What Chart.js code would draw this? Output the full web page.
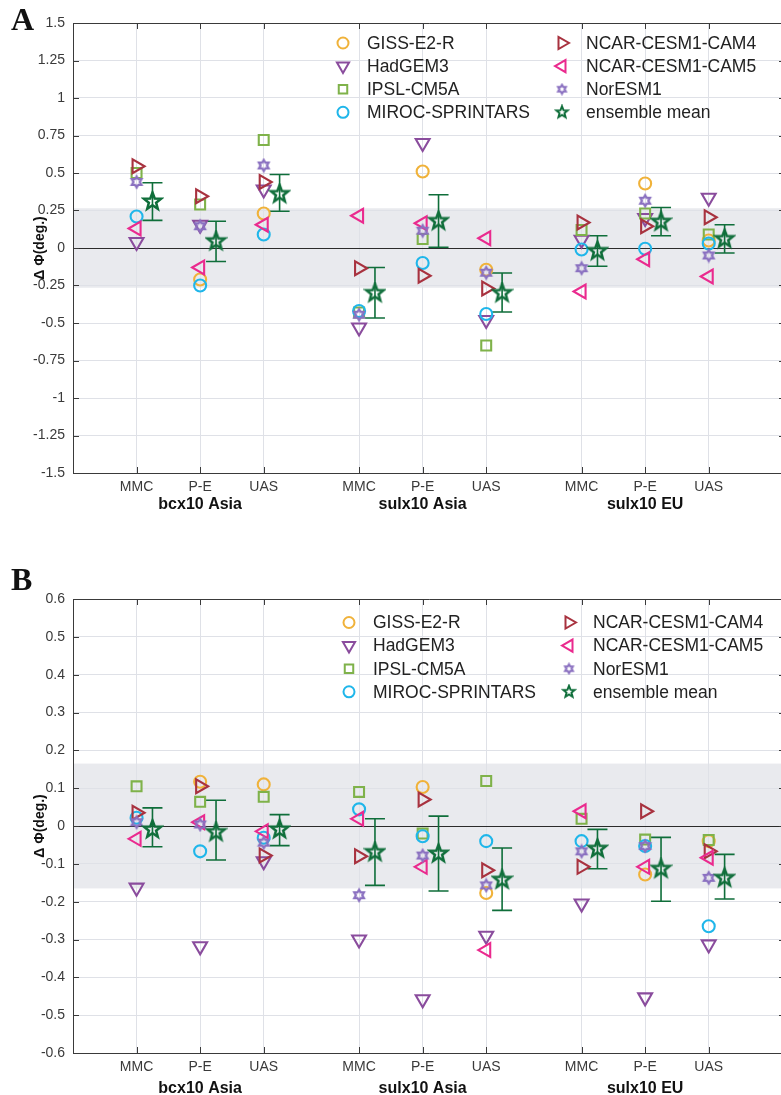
<!DOCTYPE html>
<html>
<head>
<meta charset="utf-8">
<script src="https://cdn.jsdelivr.net/npm/chart.js@4.4.0/dist/chart.umd.min.js"></script>
<style>
  html, body { margin: 0; padding: 0; background: #fff; overflow: hidden; }
  body { width: 781px; height: 1095px; position: relative; }
  .panel { position: absolute; left: 0; }
  .letter { position: absolute; left: 11px; font: bold 32px "Liberation Serif", serif; line-height: 32px; color: #111; }
</style>
</head>
<body>
<div class="panel" style="top:0"><canvas id="chartA" width="785" height="520"></canvas></div>
<div class="panel" style="top:576px"><canvas id="chartB" width="785" height="522"></canvas></div>
<div class="letter" style="top:3px">A</div>
<div class="letter" style="top:563px">B</div>
<script>
const categories = ['MMC', 'P-E', 'UAS', 'MMC', 'P-E', 'UAS', 'MMC', 'P-E', 'UAS'];
const xPositions = [1, 2, 3, 4.5, 5.5, 6.5, 8, 9, 10];
const groups = ['bcx10 Asia', 'sulx10 Asia', 'sulx10 EU'];
const groupPositions = [2, 5.5, 9];
const meanOffset = 0.25;

const models = ['GISS-E2-R', 'HadGEM3', 'IPSL-CM5A', 'MIROC-SPRINTARS',
                'NCAR-CESM1-CAM4', 'NCAR-CESM1-CAM5', 'NorESM1'];
const meanLabel = 'ensemble mean';

// panel A
const yTicksA = [-1.5, -1.25, -1, -0.75, -0.5, -0.25, 0, 0.25, 0.5, 0.75, 1, 1.25, 1.5];
const bandA = 0.265;
const gissA   = [null, -0.21, 0.23, null, 0.51, -0.145, null, 0.43, 0.05];
const hadgemA = [0.04, 0.155, 0.39, -0.53, 0.70, -0.48, 0.055, 0.20, 0.335];
const ipslA   = [0.50, 0.29, 0.72, -0.43, 0.06, -0.65, 0.12, 0.23, 0.09];
const mirocA  = [0.21, -0.25, 0.09, -0.42, -0.10, -0.44, -0.01, -0.005, 0.03];
const cam4A   = [0.545, 0.345, 0.44, -0.135, -0.185, -0.27, 0.17, 0.145, 0.205];
const cam5A   = [0.13, -0.13, 0.155, 0.215, 0.165, 0.065, -0.29, -0.075, -0.19];
const noresmA = [0.44, 0.145, 0.55, -0.445, 0.115, -0.165, -0.135, 0.315, -0.05];
const meanA    = [0.31, 0.045, 0.36, -0.30, 0.18, -0.30, -0.02, 0.175, 0.06];
const errHighA = [0.435, 0.178, 0.49, -0.13, 0.355, -0.167, 0.082, 0.27, 0.155];
const errLowA  = [0.184, -0.09, 0.245, -0.467, 0.005, -0.427, -0.122, 0.082, -0.033];

// panel B
const yTicksB = [-0.6, -0.5, -0.4, -0.3, -0.2, -0.1, 0, 0.1, 0.2, 0.3, 0.4, 0.5, 0.6];
const bandB = 0.165;
const gissB   = [null, 0.117, 0.11, null, 0.103, -0.177, null, -0.128, -0.04];
const hadgemB = [-0.163, -0.318, -0.093, -0.30, -0.458, -0.29, -0.205, -0.453, -0.313];
const ipslB   = [0.105, 0.064, 0.077, 0.09, -0.02, 0.119, 0.019, -0.036, -0.037];
const mirocB  = [0.022, -0.067, -0.031, 0.044, -0.027, -0.04, -0.04, -0.053, -0.265];
const cam4B   = [0.035, 0.105, -0.078, -0.08, 0.07, -0.117, -0.108, 0.039, -0.067];
const cam5B   = [-0.034, 0.01, -0.014, 0.019, -0.108, -0.328, 0.039, -0.108, -0.084];
const noresmB = [0.01, 0.004, -0.044, -0.183, -0.078, -0.157, -0.067, -0.053, -0.137];
const meanB    = [-0.009, -0.016, -0.009, -0.069, -0.073, -0.142, -0.06, -0.113, -0.137];
const errHighB = [0.048, 0.068, 0.03, 0.019, 0.026, -0.058, -0.009, -0.03, -0.075];
const errLowB  = [-0.055, -0.09, -0.052, -0.157, -0.172, -0.223, -0.113, -0.199, -0.193];

const FONT = '"Liberation Sans", Arial, sans-serif';
const gridColor = '#dfe1e7';
const axisColor = '#3a3a3a';
const meanColor = '#0f6e3a';

// star-shaped markers drawn once into small canvases
function starImage(points, outer, inner, color, lw) {
  const size = Math.ceil(outer * 2 + lw + 2);
  const c = document.createElement('canvas');
  c.width = size; c.height = size;
  const g = c.getContext('2d');
  g.translate(size / 2, size / 2);
  g.beginPath();
  for (let k = 0; k < points * 2; k++) {
    const r = k % 2 ? inner : outer;
    const a = -Math.PI / 2 + k * Math.PI / points;
    g.lineTo(Math.cos(a) * r, Math.sin(a) * r);
  }
  g.closePath();
  g.strokeStyle = color;
  g.lineWidth = lw;
  g.lineJoin = 'miter';
  g.stroke();
  return c;
}

const hexPlot = starImage(6, 5.5, 3.2, '#8a70c0', 2.3);
const hexLegend = starImage(6, 4.5, 2.6, '#8a70c0', 2);
const starPlot = starImage(5, 9, 3.8, meanColor, 2.5);
const starLegend = starImage(5, 6, 2.6, meanColor, 2);

const styles = [
  { color: '#f0b23a', shape: 'circle', rotation: 0, radius: 6, legendRadius: 5.5 },
  { color: '#8a4c9d', shape: 'triangle', rotation: 180, radius: 8, legendRadius: 7 },
  { color: '#7fb24a', shape: 'rect', rotation: 0, radius: 7, legendRadius: 6 },
  { color: '#1fb6ea', shape: 'circle', rotation: 0, radius: 6, legendRadius: 5.5 },
  { color: '#a8323f', shape: 'triangle', rotation: 90, radius: 8, legendRadius: 7 },
  { color: '#ea2a8e', shape: 'triangle', rotation: -90, radius: 8, legendRadius: 7 },
  { color: '#8a70c0', shape: hexPlot, legendShape: hexLegend, rotation: 0, radius: 6, legendRadius: 5 }
];

function buildDatasets(series, mean, errLow, errHigh) {
  const sets = series.map((vals, m) => ({
    label: models[m],
    data: xPositions.map((x, i) => ({ x: x, y: vals[i] })).filter(p => p.y !== null),
    pointStyle: styles[m].shape,
    pointRotation: styles[m].rotation,
    pointRadius: styles[m].radius,
    pointBorderColor: styles[m].color,
    pointBackgroundColor: 'rgba(0,0,0,0)',
    pointBorderWidth: 2.1,
    showLine: false,
    order: series.length - m + 1
  }));
  sets.push({
    label: meanLabel,
    data: xPositions.map((x, i) => ({ x: x + meanOffset, y: mean[i] })),
    errLow: errLow,
    errHigh: errHigh,
    pointStyle: starPlot,
    pointRadius: 9,
    pointBorderColor: meanColor,
    pointBackgroundColor: 'rgba(0,0,0,0)',
    showLine: false,
    order: 0
  });
  return sets;
}

const panelDecor = {
  id: 'panelDecor',
  beforeDraw(chart, args, opts) {
    const { ctx, chartArea: a, scales: { y } } = chart;
    const t = y.getPixelForValue(opts.band), b = y.getPixelForValue(-opts.band);
    ctx.save();
    ctx.fillStyle = '#e9eaee';
    ctx.fillRect(a.left, t, a.right - a.left, b - t);
    ctx.restore();
  },
  beforeDatasetsDraw(chart) {
    const { ctx, scales: { x, y } } = chart;
    const ds = chart.data.datasets.find(d => d.errLow);
    ctx.save();
    ctx.strokeStyle = meanColor;
    ctx.lineWidth = 1.6;
    ds.errLow.forEach((lo, i) => {
      const px = x.getPixelForValue(xPositions[i] + meanOffset);
      const y1 = y.getPixelForValue(lo), y2 = y.getPixelForValue(ds.errHigh[i]);
      ctx.beginPath();
      ctx.moveTo(px, y1); ctx.lineTo(px, y2);
      ctx.moveTo(px - 10, y1); ctx.lineTo(px + 10, y1);
      ctx.moveTo(px - 10, y2); ctx.lineTo(px + 10, y2);
      ctx.stroke();
    });
    ctx.restore();
  },
  afterDraw(chart, args, opts) {
    const { ctx, chartArea: a, scales: { x, y } } = chart;
    ctx.save();
    // axes box with inward ticks
    ctx.strokeStyle = axisColor;
    ctx.lineWidth = 1;
    ctx.beginPath();
    ctx.moveTo(a.right, a.top + 0.5); ctx.lineTo(a.left + 0.5, a.top + 0.5);
    ctx.lineTo(a.left + 0.5, a.bottom + 0.5); ctx.lineTo(a.right, a.bottom + 0.5);
    x.ticks.forEach(t => {
      const px = Math.round(x.getPixelForValue(t.value)) + 0.5;
      ctx.moveTo(px, a.top); ctx.lineTo(px, a.top + 6);
      ctx.moveTo(px, a.bottom); ctx.lineTo(px, a.bottom - 6);
    });
    y.ticks.forEach(t => {
      const py = Math.round(y.getPixelForValue(t.value)) + 0.5;
      ctx.moveTo(a.left, py); ctx.lineTo(a.left + 6, py);
      ctx.moveTo(a.right, py); ctx.lineTo(a.right - 6, py);
    });
    ctx.stroke();

    // legend in two columns of four
    ctx.font = '17.5px ' + FONT;
    ctx.textBaseline = 'middle';
    chart.data.datasets.forEach((ds, i) => {
      const col = Math.floor(i / 4), row = i % 4;
      const mx = opts.legendX[col], ty = a.top + opts.legendTop + row * 23.1;
      const st = styles[i];
      ctx.strokeStyle = st ? st.color : meanColor;
      ctx.lineWidth = 2;
      ctx.fillStyle = 'rgba(0,0,0,0)';
      Chart.helpers.drawPoint(ctx, {
        pointStyle: st ? (st.legendShape || st.shape) : starLegend,
        rotation: st ? st.rotation : 0,
        radius: st ? st.legendRadius : 6,
        borderWidth: 2
      }, mx, ty);
      ctx.fillStyle = '#222';
      ctx.fillText(ds.label, mx + 24, ty + 1);
    });
    ctx.restore();
  }
};

function makePanel(id, cfg) {
  return new Chart(document.getElementById(id), {
    type: 'scatter',
    data: { datasets: buildDatasets(cfg.series, cfg.mean, cfg.errLow, cfg.errHigh) },
    options: {
      responsive: false,
      animation: false,
      events: [],
      layout: { autoPadding: false, padding: { top: 23, left: 0, right: 0, bottom: cfg.padBottom } },
      scales: {
        x: {
          type: 'linear', position: 'bottom', weight: 0,
          min: 0, max: 11.2,
          afterBuildTicks: s => { s.ticks = xPositions.map(v => ({ value: v })); },
          afterFit: s => { s.height = 20; },
          ticks: {
            autoSkip: false, maxRotation: 0, padding: cfg.tickPad,
            color: '#3a3a3a', font: { family: FONT, size: 14 },
            callback: (v, i) => categories[i]
          },
          grid: { color: gridColor, lineWidth: 1, drawTicks: false },
          border: { display: false }
        },
        xg: {
          type: 'linear', position: 'bottom', weight: 1,
          min: 0, max: 11.2,
          afterBuildTicks: s => { s.ticks = groupPositions.map(v => ({ value: v })); },
          afterFit: s => { s.height = 22; },
          ticks: {
            autoSkip: false, maxRotation: 0, padding: cfg.groupPad,
            color: '#111', font: { family: FONT, size: 16, weight: 'bold' },
            callback: (v, i) => groups[i]
          },
          grid: { display: false, drawTicks: false },
          border: { display: false }
        },
        y: {
          type: 'linear',
          min: cfg.yTicks[0], max: cfg.yTicks[cfg.yTicks.length - 1],
          afterBuildTicks: s => { s.ticks = cfg.yTicks.map(v => ({ value: v })); },
          afterFit: s => { s.width = 73; },
          ticks: {
            padding: 8, color: '#3a3a3a', font: { family: FONT, size: 14 },
            callback: v => String(v)
          },
          grid: {
            color: c => (c.tick && c.tick.value === 0) ? '#2b2b2b' : gridColor,
            lineWidth: 1, drawTicks: false
          },
          border: { display: false },
          title: {
            display: true, text: 'Δ Φ(deg.)', color: '#111',
            font: { family: FONT, size: 14, weight: 'bold' },
            padding: { top: 32, bottom: 0 }
          }
        }
      },
      plugins: {
        legend: { display: false },
        tooltip: { enabled: false },
        panelDecor: { band: cfg.band, legendX: cfg.legendX, legendTop: cfg.legendTop }
      }
    },
    plugins: [panelDecor]
  });
}

makePanel('chartA', {
  series: [gissA, hadgemA, ipslA, mirocA, cam4A, cam5A, noresmA],
  mean: meanA, errLow: errLowA, errHigh: errHighA,
  yTicks: yTicksA, band: bandA,
  legendX: [343, 562], legendTop: 20,
  padBottom: 5, tickPad: 6, groupPad: 2
});

makePanel('chartB', {
  series: [gissB, hadgemB, ipslB, mirocB, cam4B, cam5B, noresmB],
  mean: meanB, errLow: errLowB, errHigh: errHighB,
  yTicks: yTicksB, band: bandB,
  legendX: [349, 569], legendTop: 23.5,
  padBottom: 3, tickPad: 6, groupPad: 6
});
</script>
</body>
</html>
